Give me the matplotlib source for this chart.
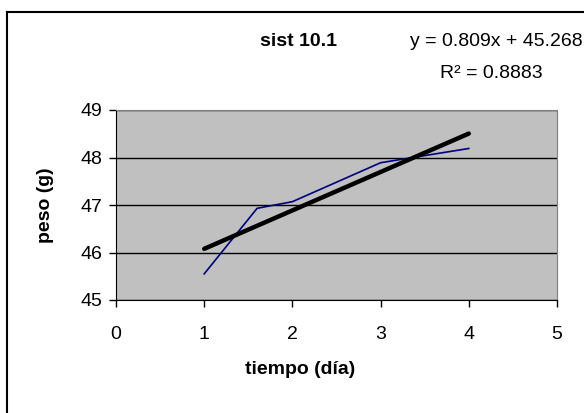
import numpy as np
import matplotlib
matplotlib.use("Agg")
import matplotlib.pyplot as plt
from matplotlib.lines import Line2D

plt.rcParams['font.family'] = ['Liberation Sans', 'DejaVu Sans']

# datos
tiempo = [1, 1.6, 2, 3, 4]
peso = [45.55, 46.93, 47.07, 47.89, 48.19]

# línea de tendencia (Excel)
pendiente = 0.809
intercepto = 45.268
r2 = 0.8883

fs = 14

fig = plt.figure(figsize=(5.84, 4.13), dpi=100)
ax = fig.add_axes([116 / 584, 1 - 300 / 413, (557 - 116) / 584, (300 - 110) / 413])

ax.set_facecolor('#C0C0C0')
ax.plot(tiempo, peso, color='#000080', lw=1.2, zorder=3)

xt = np.array([min(tiempo), max(tiempo)])
ax.plot(xt, pendiente * xt + intercepto, color='black', lw=3.2,
        solid_capstyle='round', zorder=4)

ax.set_xlim(0, 5)
ax.set_ylim(45, 49)
ax.set_xticks(range(0, 6))
ax.set_yticks(range(45, 50))
ax.yaxis.grid(True, color='black', lw=1)
ax.set_axisbelow(True)
ax.tick_params(direction='out', length=5, width=1, labelsize=fs, colors='black')
ax.tick_params(axis='x', pad=14)
ax.tick_params(axis='y', pad=5)

for s in ['top', 'right']:
    ax.spines[s].set_color('#808080')
for s in ['left', 'bottom']:
    ax.spines[s].set_color('black')

fig.text(300 / 584, 1 - 370 / 413, 'tiempo (día)', ha='center', va='center',
         fontsize=fs, fontweight='bold')
fig.text(45 / 584, 1 - 205 / 413, 'peso (g)', ha='center', va='center',
         fontsize=fs, fontweight='bold', rotation=90)
fig.text(298 / 584, 1 - 42 / 413, 'sist 10.1', ha='center', va='center',
         fontsize=fs, fontweight='bold')
fig.text(583 / 584, 1 - 42 / 413, f'y = {pendiente:.3f}x + {intercepto:.3f}',
         ha='right', va='center', fontsize=fs)
fig.text(543 / 584, 1 - 74 / 413, f'R² = {r2:.4f}', ha='right', va='center',
         fontsize=fs)

# borde del área del gráfico
fig.add_artist(Line2D([7 / 584, 7 / 584], [0, 1 - 12 / 413], color='black', lw=1.5))
fig.add_artist(Line2D([7 / 584, 1], [1 - 12 / 413, 1 - 12 / 413], color='black', lw=1.5))

fig.savefig('out.png', dpi=100)
